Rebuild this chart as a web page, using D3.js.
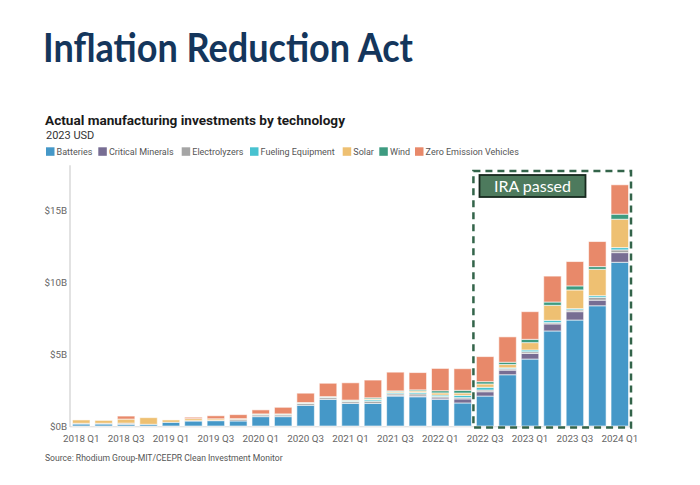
<!DOCTYPE html>
<html>
<head>
<meta charset="utf-8">
<script src="https://cdn.jsdelivr.net/npm/d3@7"></script>
<style>
  html, body { margin: 0; padding: 0; background: #fff; }
  svg { display: block; }
</style>
</head>
<body>
<svg id="chart" width="700" height="485"></svg>
<script>
// ---------- DATA ----------
const quarters = ["2018 Q1","2018 Q2","2018 Q3","2018 Q4","2019 Q1","2019 Q2","2019 Q3","2019 Q4",
  "2020 Q1","2020 Q2","2020 Q3","2020 Q4","2021 Q1","2021 Q2","2021 Q3","2021 Q4",
  "2022 Q1","2022 Q2","2022 Q3","2022 Q4","2023 Q1","2023 Q2","2023 Q3","2023 Q4","2024 Q1"];
const xTickLabels = ["2018 Q1","2018 Q3","2019 Q1","2019 Q3","2020 Q1","2020 Q3","2021 Q1","2021 Q3",
  "2022 Q1","2022 Q3","2023 Q1","2023 Q3","2024 Q1"];
const yTickValues = [0, 5, 10, 15];
const seriesNames = ["Batteries","Critical Minerals","Electrolyzers","Fueling Equipment","Solar","Wind","Zero Emission Vehicles"];
const seriesColors = ["#4598c8","#776d93","#a5a5a5","#48c2d0","#eec072","#3d9b80","#e8896a"];

// values in billions of 2023 USD
const batteries        = [0.14,0.14,0.12,0.12,0.26,0.35,0.37,0.35,0.65,0.65,1.44,1.85,1.57,1.57,2.08,2.03,1.85,1.60,2.08,3.56,4.65,6.60,7.36,8.35,11.37];
const criticalMinerals = [0,0,0,0,0,0,0,0,0,0,0,0,0,0,0.03,0.05,0.10,0.28,0.30,0.32,0.39,0.49,0.58,0.39,0.67];
const electrolyzers    = [0.05,0.05,0.08,0,0,0.02,0.03,0.12,0.12,0.12,0.12,0.12,0.12,0.15,0.12,0.15,0.10,0.09,0.12,0.09,0.12,0.09,0.12,0.19,0.19];
const fuelingEquipment = [0,0,0,0,0,0,0,0,0.03,0.03,0.03,0.04,0.04,0.10,0.08,0.10,0.10,0.16,0.19,0.07,0.12,0.16,0.09,0.12,0.16];
const solar            = [0.23,0.20,0.28,0.46,0.16,0.14,0.10,0.04,0.02,0.02,0.02,0.02,0.04,0.06,0.08,0.10,0.15,0.16,0.23,0.23,0.51,1.04,1.30,1.83,1.97];
const wind             = [0,0,0,0,0,0,0,0,0.02,0.02,0.02,0.01,0.03,0.08,0.05,0.08,0.15,0.19,0.16,0.16,0.23,0.23,0.28,0.19,0.35];
const zev              = [0,0,0.21,0,0,0.10,0.21,0.28,0.28,0.46,0.65,0.93,1.20,1.23,1.30,1.20,1.55,1.50,1.74,1.76,1.92,1.80,1.69,1.74,2.04];
const iraStart = "2022 Q3";

// ---------- BUILD ----------
const seriesValues = [batteries, criticalMinerals, electrolyzers, fuelingEquipment, solar, wind, zev];
const keys = seriesNames;
const table = quarters.map((q, i) => {
  const row = { quarter: q };
  keys.forEach((k, j) => row[k] = seriesValues[j][i]);
  return row;
});
const stacked = d3.stack().keys(keys)(table);
const color = d3.scaleOrdinal().domain(keys).range(seriesColors);

const svg = d3.select("#chart");
const FONT = "Roboto, 'Noto Sans', sans-serif";

const x = d3.scaleBand().domain(quarters).range([70, 631]).paddingInner(0.22).paddingOuter(0.11);
const y = d3.scaleLinear().domain([0, 18]).range([426, 426 - 18 * 14.4]);

// Main title
const title = svg.append("text")
  .attr("x", 43).attr("y", 62)
  .attr("font-family", "Lato, 'Open Sans', sans-serif")
  .attr("font-weight", 700)
  .attr("font-size", 40)
  .attr("fill", "#14365c")
  .text("Inflation Reduction Act");
const tl = title.node().getComputedTextLength();
if (tl > 370) title.attr("textLength", 370).attr("lengthAdjust", "spacingAndGlyphs");

// Chart title & subtitle
svg.append("text").attr("x", 45).attr("y", 125)
  .attr("font-family", FONT).attr("font-weight", 700).attr("font-size", 13.6).attr("fill", "#1a1a1a")
  .text("Actual manufacturing investments by technology");
svg.append("text").attr("x", 46).attr("y", 138.5)
  .attr("font-family", FONT).attr("font-size", 11).attr("fill", "#333")
  .text("2023 USD");

// Legend
const legendX = [46, 98.3, 181.7, 250, 342.7, 379.3, 415];
const lg = svg.append("g");
keys.forEach((k, i) => {
  lg.append("rect").attr("x", legendX[i]).attr("y", 147.3).attr("width", 8.5).attr("height", 8.5)
    .attr("fill", color(k));
  lg.append("text").attr("x", legendX[i] + 10.6).attr("y", 155.3)
    .attr("font-family", FONT).attr("font-size", 9).attr("fill", "#555").text(k);
});

// Axes lines
svg.append("line").attr("x1", 70).attr("x2", 70).attr("y1", y(18.1)).attr("y2", y(0) + 1)
  .attr("stroke", "#d9d9d9").attr("stroke-width", 1.5);
svg.append("line").attr("x1", 70).attr("x2", 631).attr("y1", y(0) + 0.8).attr("y2", y(0) + 0.8)
  .attr("stroke", "#d9d9d9").attr("stroke-width", 1);

// Y tick labels via axis
const yAxis = d3.axisLeft(y).tickValues(yTickValues).tickSize(0).tickPadding(0)
  .tickFormat(d => "$" + d + "B");
const yg = svg.append("g").attr("transform", "translate(67,0)").call(yAxis);
yg.select(".domain").remove();
yg.selectAll("text").attr("font-family", FONT).attr("font-size", 9.8).attr("fill", "#666");

// X tick labels via axis
const xAxis = d3.axisBottom(x).tickValues(xTickLabels).tickSize(0).tickPadding(0);
const xg = svg.append("g").attr("transform", "translate(0,435)").call(xAxis);
xg.select(".domain").remove();
xg.selectAll("text").attr("font-family", FONT).attr("font-size", 9.8).attr("fill", "#666");

// Bars
svg.append("g").selectAll("g").data(stacked).join("g")
  .attr("fill", d => color(d.key))
  .selectAll("rect").data(d => d).join("rect")
  .attr("x", d => x(d.data.quarter))
  .attr("width", x.bandwidth())
  .attr("y", d => y(d[1]))
  .attr("height", d => Math.max(0, y(d[0]) - y(d[1])))
  .attr("stroke", "#fff").attr("stroke-width", 1).attr("stroke-opacity", 0.6);

// IRA dashed box
const step = x.step();
const boxL = x(iraStart) - step * x.paddingInner() / 2 - 0.5;
const boxR = 631;
svg.append("rect")
  .attr("x", boxL).attr("y", 171)
  .attr("width", boxR - boxL).attr("height", 427.5 - 171)
  .attr("fill", "none").attr("stroke", "#33644a").attr("stroke-width", 2.5)
  .attr("stroke-dasharray", "7,5");

// IRA label
svg.append("rect").attr("x", 479.5).attr("y", 175).attr("width", 106).attr("height", 22)
  .attr("fill", "#4d7a5d").attr("stroke", "#17291e").attr("stroke-width", 1.8);
svg.append("text").attr("x", 532.5).attr("y", 192)
  .attr("text-anchor", "middle").attr("font-family", "Lato, 'Open Sans', sans-serif")
  .attr("font-size", 16).attr("fill", "#fff").text("IRA passed");

// Source
svg.append("text").attr("x", 45).attr("y", 461)
  .attr("font-family", FONT).attr("font-size", 8.6).attr("fill", "#555")
  .text("Source: Rhodium Group-MIT/CEEPR Clean Investment Monitor");
</script>
</body>
</html>
